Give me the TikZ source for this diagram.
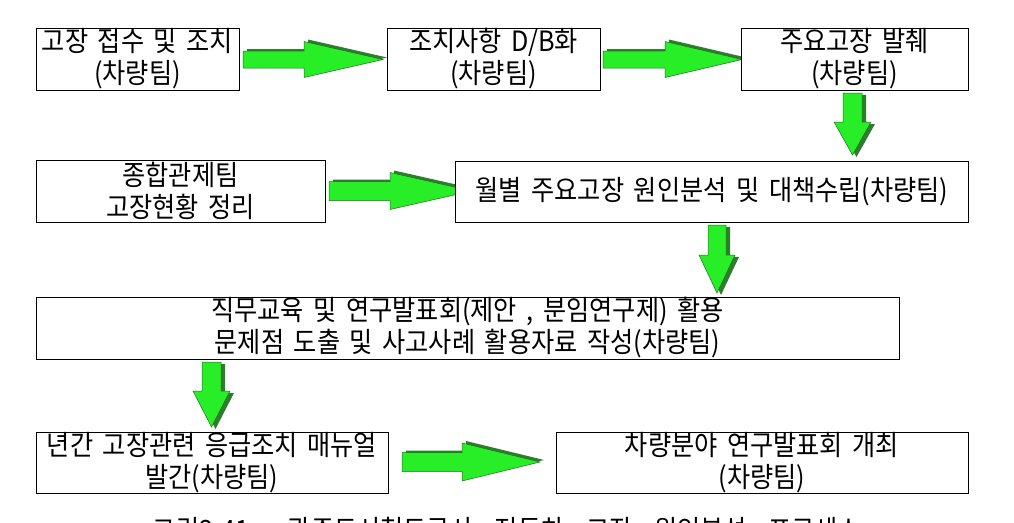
\documentclass[tikz,border=0pt]{standalone}
\usepackage{fontspec}
\setmainfont[FakeStretch=0.9, WordSpace=1.7]{Noto Sans CJK KR}
\definecolor{arrgreen}{RGB}{40,238,40}
\definecolor{arrline}{RGB}{30,110,30}
\definecolor{arrshade}{RGB}{45,125,45}
\tikzset{
  boxst/.style={draw=black, line width=0.9pt, fill=white, inner sep=0pt},
  txt/.style={font=\fontsize{28}{32}\selectfont, align=center, inner sep=0pt},
  arrfill/.style={fill=arrgreen, draw=arrline, line width=0.5pt, line join=miter},
  arrshadow/.style={fill=arrshade},
}
% horizontal block arrow: x0, yc, xbase, xtip, shaft half, head half
\newcommand\harr[6]{%
  \fill[arrshadow, shift={(4,-2)}] (#1,{#2-#5}) -- (#3,{#2-#5}) -- (#3,{#2-#6}) -- (#4,#2) -- (#3,{#2+#6}) -- (#3,{#2+#5}) -- (#1,{#2+#5}) -- cycle;
  \filldraw[arrfill] (#1,{#2-#5}) -- (#3,{#2-#5}) -- (#3,{#2-#6}) -- (#4,#2) -- (#3,{#2+#6}) -- (#3,{#2+#5}) -- (#1,{#2+#5}) -- cycle;}
% vertical block arrow: xc, y0, ybase, ytip, shaft half, head half
\newcommand\varr[6]{%
  \fill[arrshadow, shift={(4,2)}] ({#1-#5},#2) -- ({#1+#5},#2) -- ({#1+#5},#3) -- ({#1+#6},#3) -- (#1,#4) -- ({#1-#6},#3) -- ({#1-#5},#3) -- cycle;
  \filldraw[arrfill] ({#1-#5},#2) -- ({#1+#5},#2) -- ({#1+#5},#3) -- ({#1+#6},#3) -- (#1,#4) -- ({#1-#6},#3) -- ({#1-#5},#3) -- cycle;}
\begin{document}
\begin{tikzpicture}[x=1pt, y=-1pt]
\useasboundingbox (0,0) rectangle (1014,522);
% arrows drawn first (box E covers the tip of its incoming arrow)
\harr{243}{59.5}{304}{383}{8.5}{18}
\harr{603}{59.5}{665}{742}{8.5}{18}
\varr{852.5}{93}{122}{155}{9.5}{18.5}
\harr{329}{191}{390}{472}{9.5}{18.5}
\varr{717}{225}{255}{293}{9}{18}
\varr{211.5}{362}{391}{427}{9.5}{18.5}
\harr{402}{462}{462}{540}{9.5}{19}
% boxes
\path[boxst] (36,28) rectangle (239,90);
\node[txt] (A) at (137.5,59) {고장 접수 및 조치\\(차량팀)};
\path[boxst] (387,28) rectangle (600,90);
\node[txt] (B) at (493.5,59) {조치사항 D/B화\\(차량팀)};
\path[boxst] (741,28) rectangle (968,90);
\node[txt] (C) at (854.5,59) {주요고장 발췌\\(차량팀)};
\path[boxst] (36,160) rectangle (325,222);
\node[txt] (D) at (180.5,191) {종합관제팀\\고장현황 정리};
\path[boxst] (455,161) rectangle (968,222);
\node[txt] (E) at (712,191.5) {월별 주요고장 원인분석 및 대책수립(차량팀)};
\path[boxst] (36,297) rectangle (899,359);
\node[txt] (F) at (467.5,328) {직무교육 및 연구발표회(제안 , 분임연구제) 활용\\문제점 도출 및 사고사례 활용자료 작성(차량팀)};
\path[boxst] (36,432) rectangle (388,493);
\node[txt] (G) at (212,462.5) {년간 고장관련 응급조치 매뉴얼\\발간(차량팀)};
\path[boxst] (556,432) rectangle (968,493);
\node[txt] (H) at (762,462.5) {차량분야 연구발표회 개최\\(차량팀)};
% caption (cut off by the page edge, as in the reference)
\node[txt] (cap) at (500,530) {<그림3-41>\hspace{24pt}광주도시철도공사\hspace{12pt} 전동차\hspace{12pt} 고장\hspace{12pt} 원인분석\hspace{12pt} 프로세스};
\end{tikzpicture}
\end{document}
